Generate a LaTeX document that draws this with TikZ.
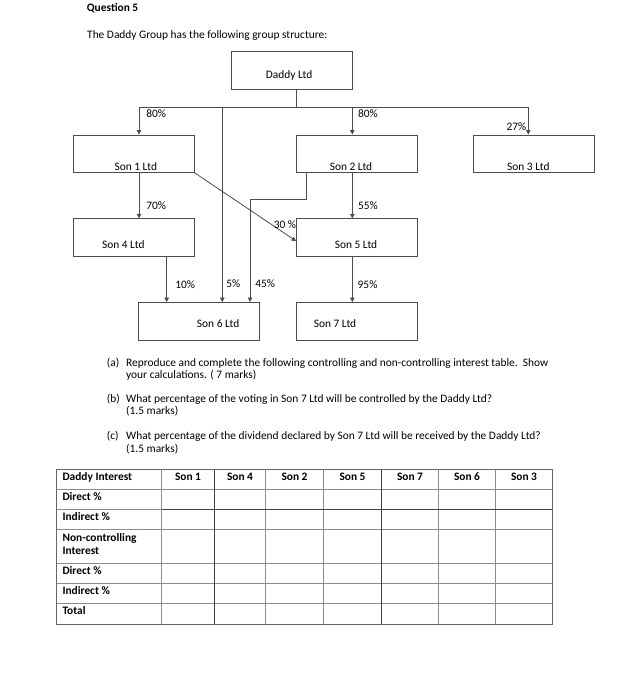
\documentclass[tikz,border=0pt]{standalone}
\usepackage{fontspec}
\setmainfont{Carlito}
\usetikzlibrary{arrows.meta,calc,positioning}
\newcommand{\qfont}{\fontsize{11.4}{13}\selectfont}

\begin{document}
\begin{tikzpicture}[x=1pt,y=-1pt,>={Triangle[length=4.5pt,width=4.5pt]},
  co/.style={draw=black!70,line width=0.8pt,minimum width=121pt,minimum height=37.5pt,inner sep=0pt},
  lbl/.style={font=\qfont,inner sep=0pt},
  pct/.style={font=\qfont,inner sep=0pt},
  txt/.style={font=\qfont,inner sep=0pt,anchor=base west},
  ln/.style={draw=black!70,line width=0.8pt},
  arr/.style={ln,->}]
\useasboundingbox[fill=white] (0,0) rectangle (627,700);
\node[txt,font=\qfont\bfseries] (title) at (86.7,12) {Question 5};
\node[txt] (intro) at (87,39) {The Daddy Group has the following group structure:};
% the companies
\node[co] (daddy) at (292.2,70.5) {};
\node[co] (s1) at (133.8,153.7) {};
\node[co] (s2) at (357,153.7) {};
\node[co] (s3) at (533.7,153.7) {};
\node[co] (s4) at (133.8,237.5) {};
\node[co] (s5) at (357,237.5) {};
\node[co] (s6) at (199.2,321.2) {};
\node[co] (s7) at (357,321.2) {};
\node[lbl] (ldaddy) at ($(daddy)+(-3,4.5)$) {Daddy Ltd};
\node[lbl] (ls1) at ($(s1)+(2,13)$) {Son 1 Ltd};
\node[lbl] (ls2) at ($(s2)+(-6,13)$) {Son 2 Ltd};
\node[lbl] (ls3) at ($(s3)+(-5.4,13)$) {Son 3 Ltd};
\node[lbl] (ls4) at ($(s4)+(-10.5,7.5)$) {Son 4 Ltd};
\node[lbl] (ls5) at ($(s5)+(-1,7.5)$) {Son 5 Ltd};
\node[lbl] (ls6) at ($(s6)+(19,2)$) {Son 6 Ltd};
\node[lbl] (ls7) at ($(s7)+(-22,2)$) {Son 7 Ltd};
% holdings
\coordinate (bus) at (296.7,107);
\coordinate (j1) at (139,107);
\coordinate (j5) at (222.3,107);
\coordinate (j2) at (352.3,107);
\coordinate (j3) at (528.3,107);
\draw[ln] (daddy.south -| bus) -- (bus);
\draw[ln] (j1) -- (j3);
\draw[arr] (j1) -- (j1 |- s1.north) node[pct,pos=.25,anchor=west,xshift=7pt] (p1) {80\%};
\draw[arr] (j2) -- (j2 |- s2.north) node[pct,pos=.25,anchor=west,xshift=5.4pt] (p2) {80\%};
\draw[arr] (j3) -- (j3 |- s3.north) node[pct,pos=.72,anchor=east,xshift=-1.6pt] (p3) {27\%};
\draw[arr] (j5) -- (j5 |- s6.north) node[pct,pos=.908,anchor=west,xshift=3.7pt] (p6a) {5\%};
\draw[arr] (j1 |- s1.south) -- (j1 |- s4.north) node[pct,pos=.72,anchor=west,xshift=7pt] (p4) {70\%};
\draw[arr] (j2 |- s2.south) -- (j2 |- s5.north) node[pct,pos=.72,anchor=west,xshift=5.4pt] (p5) {55\%};
\draw[arr] (j2 |- s5.south) -- (j2 |- s7.north) node[pct,pos=.61,anchor=west,xshift=5pt] (p7) {95\%};
\draw[arr] (166.7,0 |- s4.south) -- (166.7,0 |- s6.north) node[pct,pos=.61,anchor=west,xshift=8.3pt] (p6b) {10\%};
\draw[arr] (306.7,0 |- s2.south) |- (250,199.3) -- (250,0 |- s6.north) node[pct,pos=.825,anchor=west,xshift=5pt] (p6c) {45\%};
\draw[arr] (s1.south east) -- ($(s5.north west)+(0,22.7)$) node[pct,pos=.89,yshift=8.5pt] (p5b) {30 \%};
% questions
\node[txt] (qa) at (106.7,366) {(a)};
\node[txt] (qa1) at (126,366) {Reproduce and complete the following controlling and non-controlling interest table.\ \ Show};
\node[txt] (qa2) at (126,378) {your calculations. ( 7 marks)};
\node[txt] (qb) at (106.7,402.3) {(b)};
\node[txt] (qb1) at (126,402.3) {What percentage of the voting in Son 7 Ltd will be controlled by the Daddy Ltd?};
\node[txt] (qb2) at (126,414.7) {(1.5 marks)};
\node[txt] (qc) at (106.7,439.7) {(c)};
\node[txt] (qc1) at (126,439.7) {What percentage of the dividend declared by Son 7 Ltd will be received by the Daddy Ltd?};
\node[txt] (qc2) at (126,452.3) {(1.5 marks)};
% table
\foreach \y in {489,509,529.3,563.3,583.3,603.3}
  \draw[black!45,line width=0.8pt] (56,\y) -- (552.3,\y);
\foreach \x in {161.7,214.3,265.7,323.3,381.7,438.3,495.7}
  \draw[black!45,line width=0.8pt] (\x,469) -- (\x,624);
\draw[black!75,line width=0.8pt] (214.3,469) -- (214.3,624) (381.7,469) -- (381.7,624) (161.7,509) -- (552.3,509);
\draw[black!60,line width=0.9pt] (56,469) rectangle (552.3,624);
\foreach \n/\xa/\xb/\t in {1/161.7/214.3/Son 1,2/214.3/265.7/Son 4,3/265.7/323.3/Son 2,4/323.3/381.7/Son 5,5/381.7/438.3/Son 7,6/438.3/495.7/Son 6,7/495.7/552.3/Son 3}
  \node[txt,anchor=base,font=\qfont\bfseries] (h\n) at ({(\xa+\xb)/2},480) {\t};
\foreach \n/\y/\t in {0/480/Daddy Interest,1/500/Direct \%,2/520/Indirect \%,3/541.5/Non-controlling,4/554/Interest,5/574/Direct \%,6/594/Indirect \%,7/614/Total}
  \node[txt,font=\qfont\bfseries] (r\n) at (62.3,\y) {\t};
\end{tikzpicture}
\end{document}
